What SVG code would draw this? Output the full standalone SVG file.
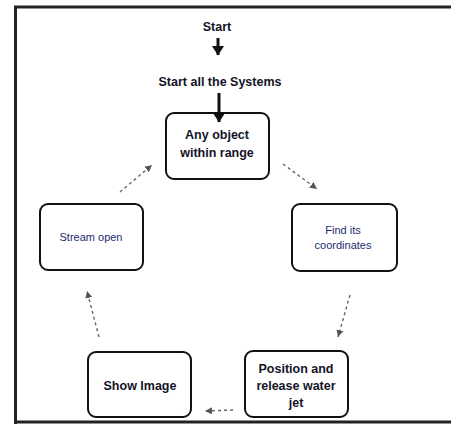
<svg xmlns="http://www.w3.org/2000/svg" width="451" height="424" viewBox="0 0 451 424">
<style>
.frame{stroke:#222;stroke-width:3;fill:none}
.box{fill:#fff;stroke:#111;stroke-width:2}
.t{font-family:"Liberation Sans",Arial,sans-serif;font-size:12.5px;font-weight:bold;fill:#141428;text-anchor:middle}
.tb{font-family:"Liberation Sans",Arial,sans-serif;font-size:11px;fill:#1c2c70;text-anchor:middle}
.main{stroke:#111;stroke-width:3;fill:none}
.dash{stroke:#666;stroke-width:1.4;fill:none;stroke-dasharray:3 3}
</style>
<defs>
<marker id="big" markerWidth="4" markerHeight="4" refX="3" refY="2" orient="auto" markerUnits="strokeWidth"><path d="M0,0 L3.2,2 L0,4 z" fill="#111"/></marker>
<marker id="small" markerWidth="6" markerHeight="6" refX="5" refY="3" orient="auto" markerUnits="strokeWidth"><path d="M0,0.5 L5,3 L0,5.5 z" fill="#555"/></marker>
</defs>
<rect width="451" height="424" fill="#fff"/>
<g id="frame">
<line class="frame" x1="14" y1="7" x2="451" y2="7"/>
<line class="frame" x1="15.5" y1="6" x2="15.5" y2="424"/>
<line class="frame" x1="14" y1="422" x2="451" y2="422"/>
</g>
<g id="start"><text class="t" x="217" y="31">Start</text></g>
<g id="start-all"><text class="t" x="220" y="86">Start all the Systems</text></g>
<g id="any-object">
<rect class="box" x="166" y="113" width="103" height="66" rx="8"/>
<text class="t" x="217" y="139">Any object</text>
<text class="t" x="217" y="157">within range</text>
</g>
<g id="find-coords">
<rect class="box" x="292" y="204" width="105" height="67" rx="8"/>
<text class="tb" x="343" y="234">Find its</text>
<text class="tb" x="343" y="249">coordinates</text>
</g>
<g id="position">
<rect class="box" x="245" y="351" width="103" height="66" rx="8"/>
<text class="t" x="296" y="373">Position and</text>
<text class="t" x="296" y="390">release water</text>
<text class="t" x="296" y="407">jet</text>
</g>
<g id="show-image">
<rect class="box" x="88" y="352" width="103" height="65" rx="8"/>
<text class="t" x="140" y="390">Show Image</text>
</g>
<g id="stream-open">
<rect class="box" x="40" y="204" width="103" height="66" rx="8"/>
<text class="tb" x="91" y="241">Stream open</text>
</g>
<g id="connectors">
<line class="main" x1="218" y1="38" x2="218" y2="55" marker-end="url(#big)"/>
<line class="main" x1="219" y1="93" x2="219" y2="122" marker-end="url(#big)"/>
<line class="dash" x1="283" y1="164" x2="317" y2="189" marker-end="url(#small)"/>
<line class="dash" x1="350" y1="295" x2="338" y2="337" marker-end="url(#small)"/>
<line class="dash" x1="233" y1="410" x2="205" y2="411" marker-end="url(#small)"/>
<line class="dash" x1="99" y1="337" x2="87" y2="291" marker-end="url(#small)"/>
<line class="dash" x1="120" y1="192" x2="152" y2="165" marker-end="url(#small)"/>
</g>
</svg>
